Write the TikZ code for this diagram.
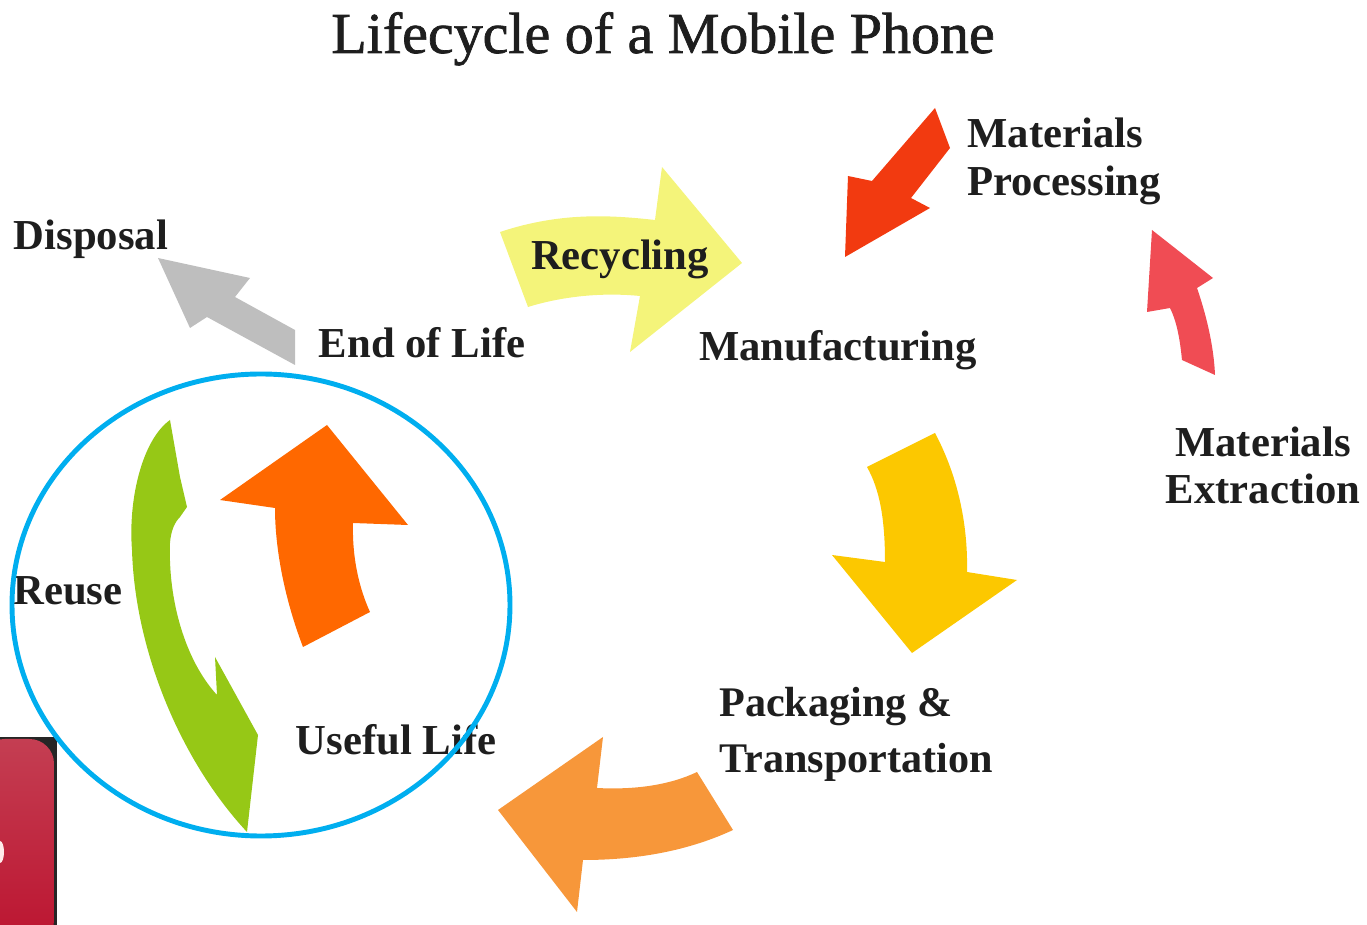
\documentclass[tikz,border=0pt]{standalone}
\usepackage{fontspec}
\setmainfont{Liberation Serif}
\newfontfamily\headfont[FakeBold=1.2]{Liberation Serif}
\usepackage{xcolor}
\usetikzlibrary{positioning}

\definecolor{procred}{RGB}{242,58,16}
\definecolor{extrred}{RGB}{240,76,84}
\definecolor{recyyel}{RGB}{244,244,122}
\definecolor{dispgry}{RGB}{190,190,190}
\definecolor{manugld}{RGB}{252,200,0}
\definecolor{packorg}{RGB}{247,151,58}
\definecolor{usefor}{RGB}{255,104,0}
\definecolor{reusegr}{RGB}{150,200,22}
\definecolor{ringblue}{RGB}{0,174,239}
\definecolor{textblk}{RGB}{30,30,30}

\tikzset{
  lbl/.style={inner sep=0pt, text=textblk, font=\bfseries\fontsize{24.3}{27}\selectfont},
}

\begin{document}
\begin{tikzpicture}[x=0.02cm, y=-0.02cm]
   \useasboundingbox (0,0) rectangle (1367,925);

   % phone in the corner
   \fill[black!85] (0,737) rectangle (57,925);
   \shade[top color={rgb,255:red,196;green,62;blue,82}, bottom color={rgb,255:red,188;green,20;blue,48}, rounded corners=14]
      (-20,739) -- (54,739) -- (54,945) -- (-20,945) -- cycle;
   \fill[white!92!red] (0,852) ellipse (4 and 11);

   % arrows
   \fill[dispgry] (158,258) -- (250,278) -- (235,297) -- (295,330) -- (295,365) -- (207,317) -- (190,328) -- cycle;
   \fill[recyyel] (500,232) .. controls (560,212) and (610,215) .. (655,220) -- (662,167) -- (742,263) -- (630,352)
      -- (640,296) .. controls (600,292) and (560,297) .. (528,307) -- cycle;
   \fill[procred] (935,108) -- (950,148) -- (911,198) -- (930,208) -- (845,257) -- (848,176) -- (872,181) -- cycle;
   \fill[extrred] (1152,230) -- (1213,278) -- (1197,288) .. controls (1208,320) and (1214,350) .. (1215,375)
      -- (1182,360) .. controls (1180,340) and (1177,322) .. (1170,308) -- (1147,312) -- cycle;
   \fill[manugld] (867,467) -- (935,433) .. controls (960,480) and (968,530) .. (967,572) -- (1017,580) -- (912,653)
      -- (832,555) -- (885,562) .. controls (885,520) and (880,490) .. (867,467) -- cycle;
   \fill[packorg] (498,810) -- (603,737) -- (597,788) .. controls (635,790) and (670,785) .. (697,772) -- (733,830)
      .. controls (690,850) and (640,860) .. (583,860) -- (577,912) -- cycle;
   \fill[usefor] (327,425) -- (408,525) -- (353,523) .. controls (352,560) and (360,590) .. (370,612) -- (303,647)
      .. controls (285,600) and (275,550) .. (275,508) -- (220,500) -- cycle;
   \fill[reusegr] (170,420) .. controls (142,440) and (128,500) .. (132,550) .. controls (135,650) and (180,760) .. (247,832)
      -- (258,735) -- (215,657) -- (217,695) .. controls (185,660) and (168,600) .. (170,543)
      .. controls (171,530) and (175,522) .. (180,517) -- (187,507) -- (180,477) -- cycle;

   % labels
   \node[inner sep=0pt, text=textblk, font=\headfont\fontsize{33}{36}\selectfont, anchor=base] (title) at (663,53) {Lifecycle of a Mobile Phone};
   \node[lbl, anchor=base] (disp) at (91,250) {Disposal};
   \node[lbl, anchor=base] (recy) at (620,270) {Recycling};
   \node[lbl, align=left, anchor=north west] (proc) at (967,118) {Materials\\Processing};
   \node[lbl, anchor=base] (eol) at (422,358) {End of Life};
   \node[lbl, anchor=base] (manu) at (838,361) {Manufacturing};
   \node[lbl, align=center, anchor=north, font=\bfseries\fontsize{24.3}{26.6}\selectfont] (extr) at (1263,427) {Materials\\Extraction};
   \node[lbl, anchor=base] (reuse) at (68,605) {Reuse};
   \node[lbl, anchor=base] (use) at (396,755) {Useful Life};
   \node[lbl, align=left, anchor=north west, font=\bfseries\fontsize{24}{31.8}\selectfont] (pack) at (719,687) {Packaging \&\\Transportation};

   % ring round the reuse loop
   \draw[ringblue, line width=2.8pt] (261,605) ellipse (249 and 231);
\end{tikzpicture}
\end{document}
